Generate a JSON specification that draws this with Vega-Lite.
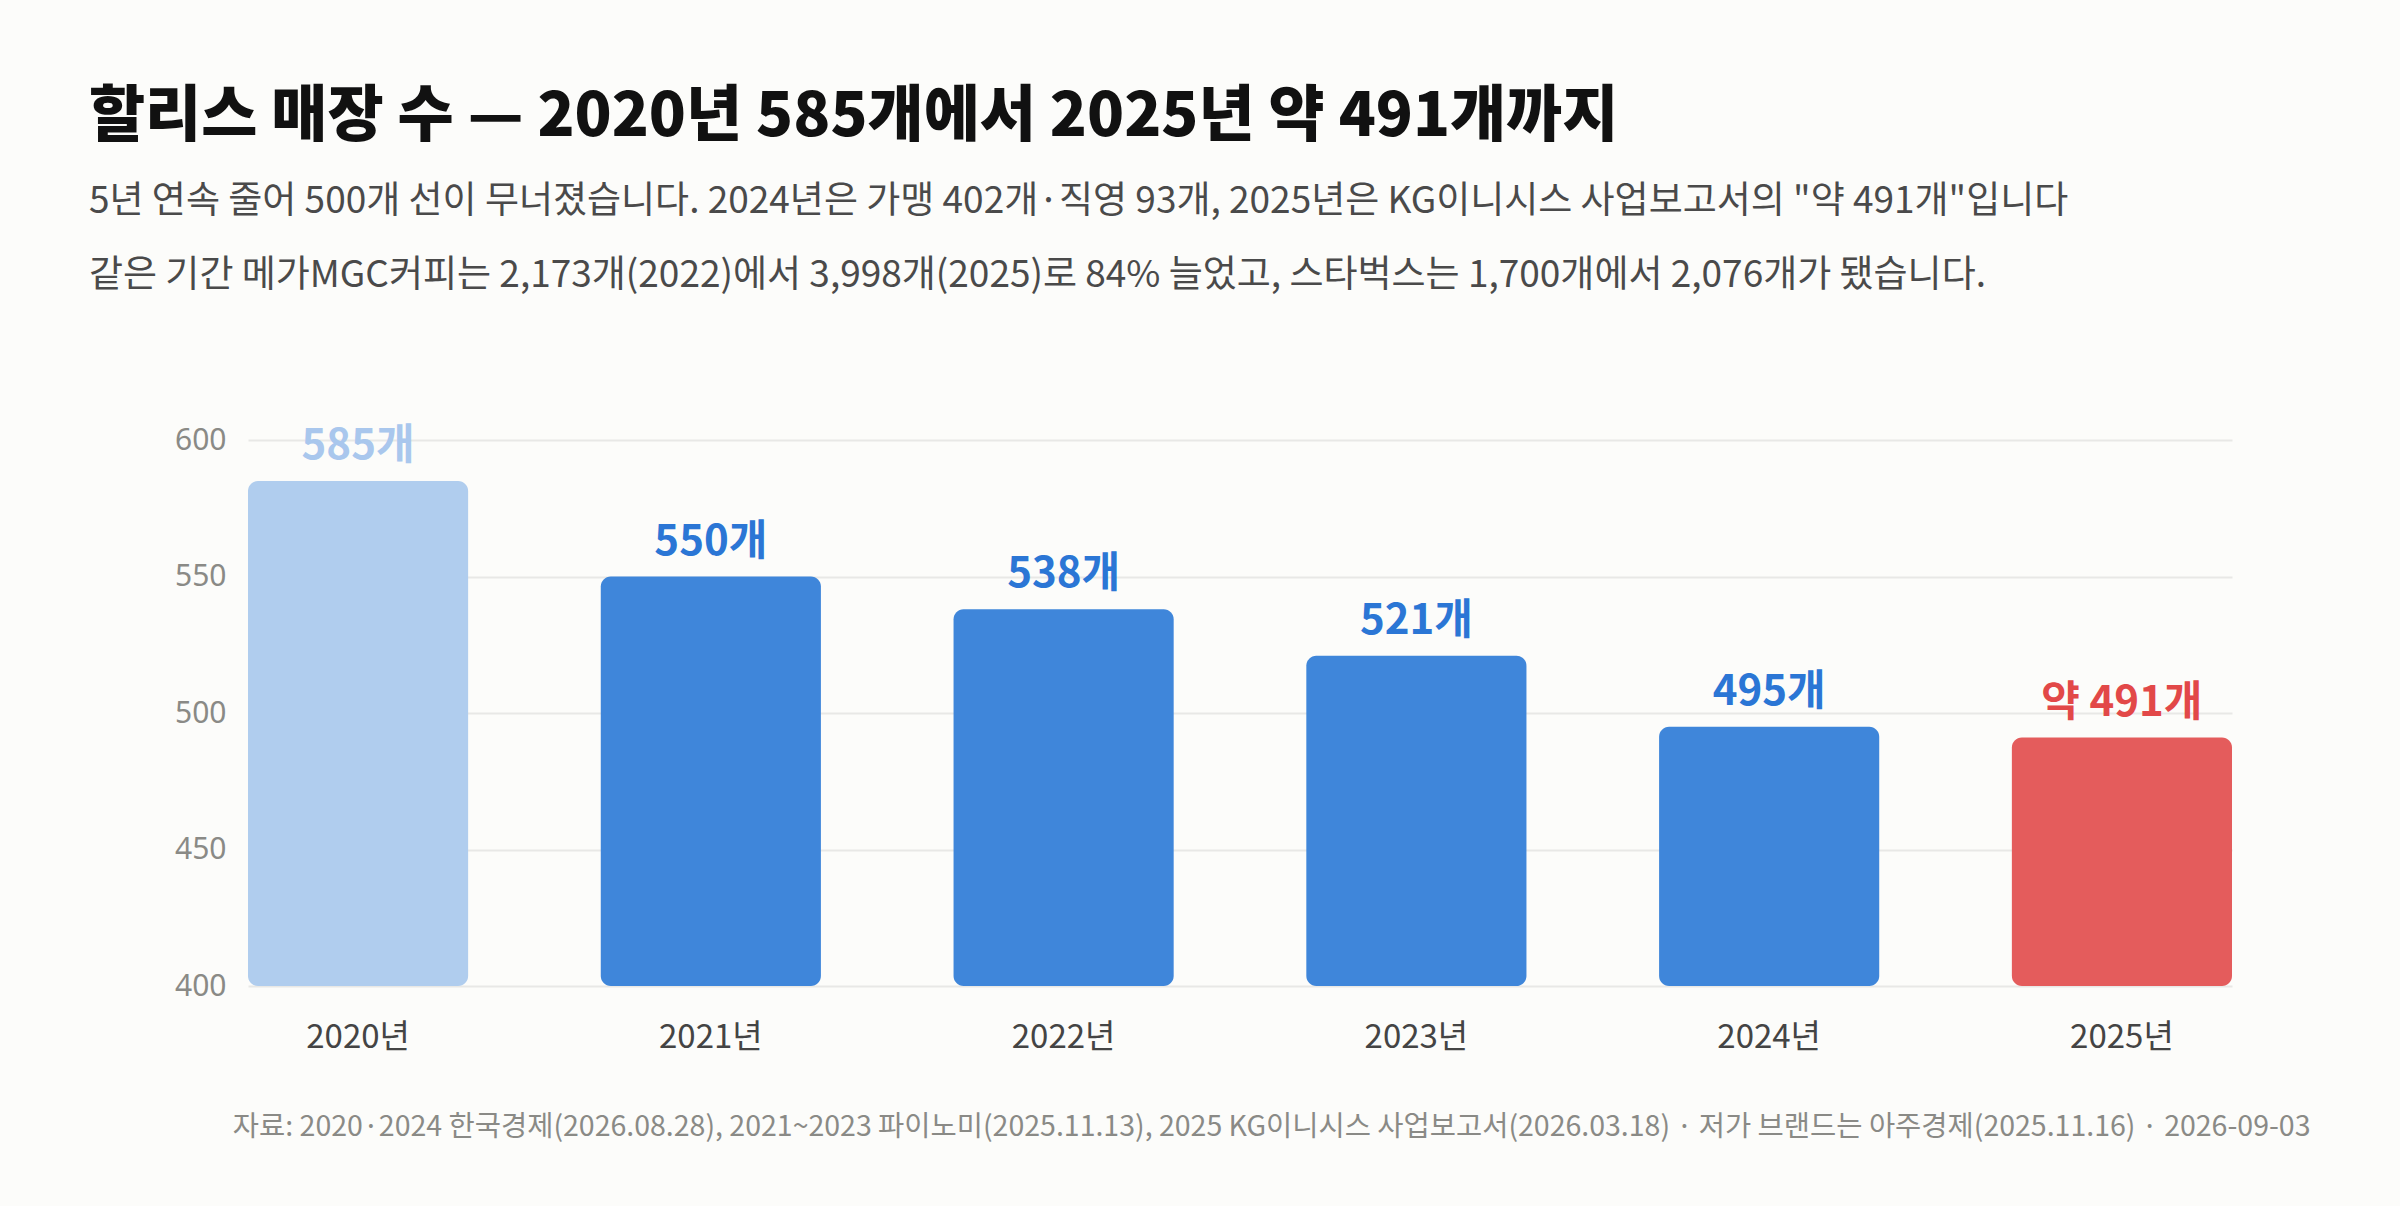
{
  "$schema": "https://vega.github.io/schema/vega-lite/v6.json",
  "autosize": {"type": "none"},
  "width": 1984,
  "height": 546,
  "padding": {"left": 248, "top": 440, "right": 168, "bottom": 220},
  "background": "#fcfcfa",
  "title": {
    "text": "할리스 매장 수 — 2020년 585개에서 2025년 약 491개까지",
    "subtitle": [
      "5년 연속 줄어 500개 선이 무너졌습니다. 2024년은 가맹 402개·직영 93개, 2025년은 KG이니시스 사업보고서의 \"약 491개\"입니다",
      "같은 기간 메가MGC커피는 2,173개(2022)에서 3,998개(2025)로 84% 늘었고, 스타벅스는 1,700개에서 2,076개가 됐습니다."
    ],
    "anchor": "start",
    "frame": "group",
    "dx": -159,
    "offset": 130,
    "font": "Noto Sans CJK KR",
    "fontSize": 61,
    "fontWeight": 900,
    "color": "#111111",
    "subtitleFont": "Noto Sans CJK KR",
    "subtitleFontSize": 37,
    "subtitleColor": "#4a4a4a",
    "subtitleLineHeight": 74,
    "subtitlePadding": 35
  },
  "data": {
    "values": [
      {"연도": "2020년", "매장수": 585, "라벨": "585개", "구분": "기준"},
      {"연도": "2021년", "매장수": 550, "라벨": "550개", "구분": "감소"},
      {"연도": "2022년", "매장수": 538, "라벨": "538개", "구분": "감소"},
      {"연도": "2023년", "매장수": 521, "라벨": "521개", "구분": "감소"},
      {"연도": "2024년", "매장수": 495, "라벨": "495개", "구분": "감소"},
      {"연도": "2025년", "매장수": 491, "라벨": "약 491개", "구분": "추정"}
    ]
  },
  "encoding": {
    "x": {
      "field": "연도",
      "type": "nominal",
      "sort": null,
      "scale": {"paddingInner": 0.376, "paddingOuter": 0},
      "axis": {
        "title": "자료: 2020·2024 한국경제(2026.08.28), 2021~2023 파이노미(2025.11.13), 2025 KG이니시스 사업보고서(2026.03.18) · 저가 브랜드는 아주경제(2025.11.16) · 2026-09-03",
        "titleFont": "Noto Sans CJK KR",
        "titleFontSize": 28.5,
        "titleFontWeight": "normal",
        "titleColor": "#8a8a86",
        "titleAnchor": "end",
        "titleAlign": "right",
        "titleBaseline": "alphabetic",
        "titleX": 2062,
        "titleY": 149,
        "labelAngle": 0,
        "labelFont": "Noto Sans CJK KR",
        "labelFontSize": 33,
        "labelColor": "#444444",
        "labelPadding": 35,
        "ticks": false,
        "domain": false
      }
    },
    "y": {
      "field": "매장수",
      "type": "quantitative",
      "scale": {"domain": [400, 600], "zero": false},
      "axis": {
        "title": null,
        "values": [400, 450, 500, 550, 600],
        "labelFont": "Noto Sans",
        "labelFontSize": 30,
        "labelColor": "#8a8a86",
        "labelPadding": 22,
        "ticks": false,
        "domain": false,
        "gridColor": "#e8e8e6",
        "gridWidth": 2
      }
    }
  },
  "layer": [
    {
      "mark": {"type": "bar", "cornerRadius": 10},
      "encoding": {
        "y2": {"datum": 400},
        "color": {
          "field": "구분",
          "type": "nominal",
          "scale": {"domain": ["기준", "감소", "추정"], "range": ["#b0cdee", "#3f86da", "#e45c5c"]},
          "legend": null
        }
      }
    },
    {
      "mark": {"type": "text", "baseline": "alphabetic", "dy": -22, "font": "Noto Sans CJK KR", "fontSize": 42, "fontWeight": "bold"},
      "encoding": {
        "text": {"field": "라벨"},
        "color": {
          "field": "구분",
          "type": "nominal",
          "scale": {"domain": ["기준", "감소", "추정"], "range": ["#a9c7ed", "#2b76d5", "#e24848"]},
          "legend": null
        }
      }
    }
  ],
  "resolve": {"scale": {"color": "independent"}},
  "config": {"view": {"stroke": null}}
}
